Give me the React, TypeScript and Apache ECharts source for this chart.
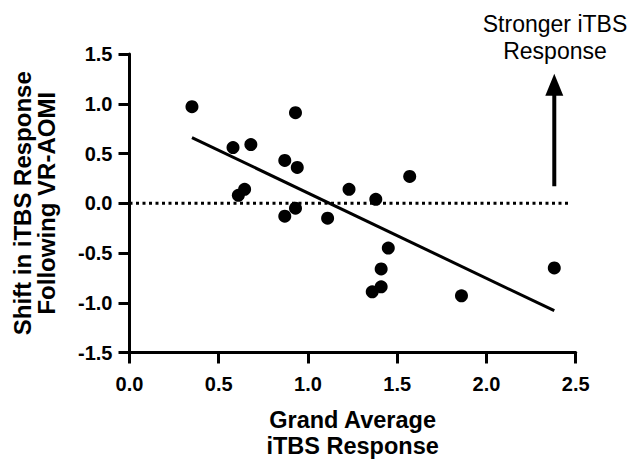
import React, { useEffect, useRef } from "react";
import * as echarts from "echarts";

const grandAverage = [0.35, 0.93, 0.58, 0.68, 0.87, 0.94, 0.61, 0.645, 1.23, 0.87, 0.93, 1.11, 1.57, 1.38, 1.45, 1.41, 1.41, 1.36, 1.86, 2.38];
const shiftResponse = [0.97, 0.91, 0.56, 0.59, 0.43, 0.36, 0.08, 0.14, 0.14, -0.13, -0.05, -0.15, 0.27, 0.04, -0.45, -0.66, -0.84, -0.89, -0.93, -0.65];
const fitX = [0.35, 2.38];
const fitY = [0.66, -1.08];
const zeroLineX = [0, 2.47];
const arrowX = 2.38;
const arrowShaftY = [0.17, 1.1];
const arrowHeadY = 1.19;
const xTitle = "Grand Average\niTBS Response";
const yTitle = "Shift in iTBS Response\nFollowing VR-AOMI";
const annotation = "Stronger iTBS\nResponse";

const FONT = "'Liberation Sans', Arial, Helvetica, sans-serif";

export default function App() {
  const ref = useRef<HTMLDivElement>(null);
  useEffect(() => {
    document.body.style.margin = "0";
    const chart = echarts.init(ref.current!, null, { renderer: "svg" });
    const axisLine = { show: true, onZero: false, lineStyle: { color: "#000", width: 3 } };
    const axisTick = { show: true, length: 11, lineStyle: { color: "#000", width: 3 } };
    const labelStyle = {
      color: "#000",
      fontSize: 20,
      fontWeight: "bold",
      fontFamily: FONT,
      formatter: (v: number) => v.toFixed(1),
    };
    chart.setOption({
      animation: false,
      backgroundColor: "#fff",
      textStyle: { fontFamily: FONT, fontWeight: "bold", color: "#000" },
      grid: {
        left: 129.5,
        right: 56.3,
        top: 54,
        bottom: 106.5,
        containLabel: false,
        outerBoundsMode: "none",
      },
      xAxis: {
        type: "value",
        min: 0,
        max: 2.5,
        interval: 0.5,
        name: xTitle,
        nameLocation: "middle",
        nameGap: 54,
        nameTextStyle: { color: "#000", fontSize: 23.5, fontWeight: "bold", fontFamily: FONT, lineHeight: 26 },
        axisLine,
        axisTick,
        splitLine: { show: false },
        axisLabel: { ...labelStyle, margin: 21 },
      },
      yAxis: {
        type: "value",
        min: -1.5,
        max: 1.5,
        interval: 0.5,
        name: yTitle,
        nameLocation: "middle",
        nameGap: 71,
        nameRotate: 90,
        nameTextStyle: { color: "#000", fontSize: 24, fontWeight: "bold", fontFamily: FONT, lineHeight: 24 },
        axisLine,
        axisTick,
        splitLine: { show: false },
        axisLabel: { ...labelStyle, margin: 17 },
      },
      graphic: [
        {
          type: "text",
          x: 555,
          y: 10,
          style: {
            text: annotation,
            fill: "#000",
            fontSize: 23,
            fontWeight: "normal",
            fontFamily: FONT,
            lineHeight: 27,
            align: "center",
            verticalAlign: "top",
          },
        },
      ],
      series: [
        {
          type: "line",
          data: zeroLineX.map((x) => [x, 0]),
          symbol: "none",
          lineStyle: { color: "#000", width: 3, type: [3, 3.5] },
          silent: true,
          z: 1,
        },
        {
          type: "line",
          data: fitX.map((x, i) => [x, fitY[i]]),
          symbol: "none",
          lineStyle: { color: "#000", width: 3 },
          silent: true,
          z: 2,
        },
        {
          type: "line",
          data: arrowShaftY.map((y) => [arrowX, y]),
          symbol: "none",
          lineStyle: { color: "#000", width: 4 },
          silent: true,
          z: 2,
        },
        {
          type: "scatter",
          data: [[arrowX, arrowHeadY]],
          symbol: "triangle",
          symbolSize: [18, 22],
          itemStyle: { color: "#000", opacity: 1 },
          silent: true,
          z: 2,
        },
        {
          type: "scatter",
          data: grandAverage.map((x, i) => [x, shiftResponse[i]]),
          symbol: "circle",
          symbolSize: 13,
          itemStyle: { color: "#000", opacity: 1 },
          z: 3,
        },
      ],
    });
    return () => chart.dispose();
  }, []);
  return <div ref={ref} style={{ width: 632, height: 459 }} />;
}
